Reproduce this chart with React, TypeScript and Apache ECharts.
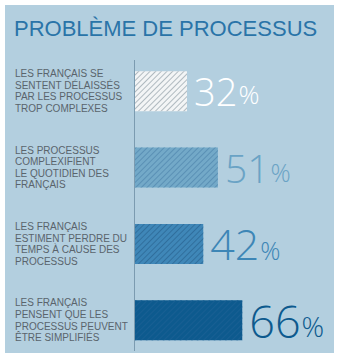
import React, { useEffect, useRef } from "react";
import * as echarts from "echarts";

const title = "PROBLÈME DE PROCESSUS";
const categories = [
  "LES FRANÇAIS SE\nSENTENT DÉLAISSÉS\nPAR LES PROCESSUS\nTROP COMPLEXES",
  "LES PROCESSUS\nCOMPLEXIFIENT\nLE QUOTIDIEN DES\nFRANÇAIS",
  "LES FRANÇAIS\nESTIMENT PERDRE DU\nTEMPS À CAUSE DES\nPROCESSUS",
  "LES FRANÇAIS\nPENSENT QUE LES\nPROCESSUS PEUVENT\nÊTRE SIMPLIFIÉS",
];
const values = [32, 51, 42, 66];
const barColors = ["#f3f5f6", "#73a9c8", "#3f87b8", "#0d5a8e"];
const hatchColors = ["#b0bac0", "#5a90b5", "#306f9d", "#185f93"];
const labelColors = ["#ffffff", "#6aa3c5", "#3d86b6", "#0d5a8e"];
const numberSizes = [38, 39, 43, 45];
const percentSizes = [26, 25, 25, 28];

export default function App() {
  const ref = useRef<HTMLDivElement>(null);
  useEffect(() => {
    const chart = echarts.init(ref.current!, null, { renderer: "svg" });
    chart.setOption({
      animation: false,
      backgroundColor: "#ffffff",
      graphic: [
        {
          type: "rect",
          z: -10,
          shape: { x: 5, y: 5, width: 329, height: 348 },
          style: { fill: "#b3cfdf" },
        },
        {
          type: "text",
          x: 14,
          y: 17,
          style: {
            text: title,
            fill: "#2a74a8",
            font: "22px 'Liberation Sans', Arial, sans-serif",
          },
        },
        {
          type: "line",
          shape: { x1: 134.5, y1: 60, x2: 134.5, y2: 351 },
          style: { stroke: "#7b9bb0", lineWidth: 1 },
        },
      ],
      grid: { left: 135, right: 40.5, top: 53, bottom: 2.6 },
      xAxis: {
        type: "value",
        min: 0,
        max: 100,
        show: false,
      },
      yAxis: {
        type: "category",
        inverse: true,
        data: categories,
        axisLine: { show: false },
        axisTick: { show: false },
        axisLabel: {
          align: "left",
          margin: 120,
          color: "#5a646c",
          fontSize: 10,
          lineHeight: 11.6,
          padding: [7, 0, 0, 0],
          fontFamily: "'Liberation Sans', Arial, sans-serif",
        },
      },
      series: [
        {
          type: "bar",
          barWidth: 40,
          data: values.map((v, i) => ({
            value: v,
            itemStyle: {
              color: barColors[i],
              decal: {
                symbol: "rect",
                symbolSize: 1,
                dashArrayX: [1, 0],
                dashArrayY: [1, 2.6],
                rotation: -Math.PI / 4,
                color: hatchColors[i],
              },
            },
            label: {
              show: true,
              position: "right",
              distance: 7,
              formatter: "{n|{c}}{p|%}",
              rich: {
                n: {
                  fontSize: numberSizes[i],
                  fontWeight: 300,
                  fontFamily: "'Open Sans', sans-serif",
                  color: labelColors[i],
                  verticalAlign: "bottom",
                },
                p: {
                  fontSize: percentSizes[i],
                  fontWeight: 300,
                  fontFamily: "'Open Sans', sans-serif",
                  color: labelColors[i],
                  verticalAlign: "bottom",
                  padding: [0, 0, 3, 1],
                },
              },
            },
          })),
        },
      ],
    });
    return () => chart.dispose();
  }, []);
  return (
    <div
      ref={ref}
      style={{ position: "fixed", left: 0, top: 0, width: 338, height: 361 }}
    />
  );
}
